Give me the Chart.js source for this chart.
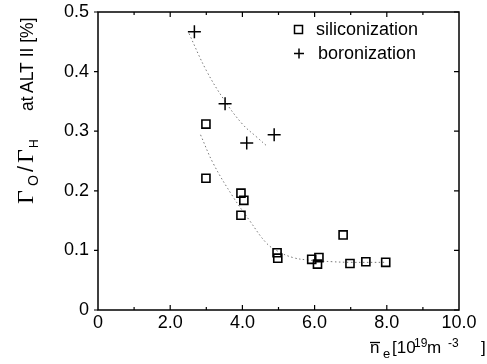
<!DOCTYPE html>
<html><head><meta charset="utf-8">
<script src="https://cdn.jsdelivr.net/npm/chart.js@4/dist/chart.umd.min.js"></script>
<style>html,body{margin:0;padding:0;background:#fff;}canvas{display:block;}</style>
</head><body>
<canvas id="c" width="487" height="364"></canvas>
<script>
// siliconization (squares)
const siliX = [2.99, 2.99, 3.96, 4.04, 3.96, 4.96, 4.98, 6.79, 5.92, 6.12, 6.08, 6.98, 7.42, 7.97];
const siliY = [0.312, 0.221, 0.196, 0.184, 0.159, 0.096, 0.087, 0.126, 0.085, 0.088, 0.077, 0.078, 0.081, 0.080];
// boronization (plus)
const boroX = [2.67, 3.52, 4.12, 4.88];
const boroY = [0.467, 0.346, 0.280, 0.294];
// dotted fit curves
const boroFitX = [2.52, 3.0, 3.5, 4.0, 4.4, 4.68];
const boroFitY = [0.464, 0.402, 0.352, 0.312, 0.290, 0.275];
const siliFitX = [2.84, 3.2, 3.74, 4.2, 4.67, 5.0, 5.4, 5.8, 6.5, 7.0, 8.0];
const siliFitY = [0.294, 0.245, 0.190, 0.150, 0.112, 0.098, 0.088, 0.084, 0.081, 0.080, 0.080];
const xTicks = [0, 2, 4, 6, 8, 10];
const yTicks = [0, 0.1, 0.2, 0.3, 0.4, 0.5];
const legendLabels = ['siliconization', 'boronization'];

const pts = (xs, ys) => xs.map((x, i) => ({x: x, y: ys[i]}));
const INK = '#000';
const FONT = '"Liberation Sans", Arial, sans-serif';

const deco = {
  id: 'deco',
  afterDraw(chart) {
    const ctx = chart.ctx, a = chart.chartArea, sx = chart.scales.x, sy = chart.scales.y;
    ctx.save();
    ctx.strokeStyle = INK; ctx.lineWidth = 1.5;
    ctx.strokeRect(a.left, a.top, a.right - a.left, a.bottom - a.top);
    ctx.lineWidth = 1.2;
    ctx.beginPath();
    yTicks.forEach(v => { const y = sy.getPixelForValue(v);
      ctx.moveTo(a.left - 4, y); ctx.lineTo(a.left, y);
      ctx.moveTo(a.right, y); ctx.lineTo(a.right - 5, y); });
    for (let v = 1; v < 10; v++) { const x = sx.getPixelForValue(v); const L = v % 2 === 0 ? 5 : 3;
      ctx.moveTo(x, a.bottom); ctx.lineTo(x, a.bottom - L);
      ctx.moveTo(x, a.top); ctx.lineTo(x, a.top + L); }
    ctx.stroke();
    // legend
    ctx.fillStyle = INK; ctx.textBaseline = 'middle'; ctx.textAlign = 'left';
    ctx.font = '18px ' + FONT;
    ctx.lineWidth = 1.5;
    ctx.strokeRect(294.5, 25.5, 8, 8);
    ctx.fillText(legendLabels[0], 316, 30);
    ctx.beginPath(); ctx.moveTo(294, 53.5); ctx.lineTo(304, 53.5); ctx.moveTo(299, 48.5); ctx.lineTo(299, 58.5); ctx.stroke();
    ctx.fillText(legendLabels[1], 318, 54);
    // x title
    ctx.textBaseline = 'alphabetic';
    ctx.font = '17px ' + FONT;
    ctx.fillText('n', 370, 353);
    ctx.lineWidth = 1.3;
    ctx.beginPath(); ctx.moveTo(370, 342.5); ctx.lineTo(380, 342.5); ctx.stroke();
    ctx.font = '13px ' + FONT; ctx.fillText('e', 383, 358);
    ctx.font = '17px ' + FONT; ctx.fillText('[10', 392, 353);
    ctx.font = '12px ' + FONT; ctx.fillText('19', 414, 347);
    ctx.font = '17px ' + FONT; ctx.fillText('m', 427, 353);
    ctx.font = '12px ' + FONT; ctx.fillText('-3', 448, 347);
    ctx.font = '17px ' + FONT; ctx.fillText(']', 481, 353);
    // y title (rotated)
    ctx.translate(33, 210); ctx.rotate(-Math.PI / 2);
    ctx.font = '24px "Liberation Serif", serif'; ctx.fillText('\u0393', 6, 0);
    ctx.font = '14px ' + FONT; ctx.fillText('O', 24, 5);
    ctx.font = '22px ' + FONT; ctx.fillText('/', 38, 0);
    ctx.font = '24px "Liberation Serif", serif'; ctx.fillText('\u0393', 47, 0);
    ctx.font = '12px ' + FONT; ctx.fillText('H', 62, 5);
    ctx.font = '17.5px ' + FONT; ctx.fillText('at', 99, 0);
    ctx.fillText('ALT II [%]', 117, 0);
    ctx.restore();
  }
};

new Chart(document.getElementById('c'), {
  type: 'scatter',
  data: {
    datasets: [
      {label: legendLabels[0], data: pts(siliX, siliY), pointStyle: 'rect', pointRadius: 5.7,
       borderColor: INK, backgroundColor: 'rgba(0,0,0,0)', borderWidth: 1.6},
      {label: legendLabels[1], data: pts(boroX, boroY), pointStyle: 'cross', pointRadius: 6.5,
       borderColor: INK, borderWidth: 1.5},
      {label: 'fit B', data: pts(boroFitX, boroFitY), showLine: true, pointRadius: 0, tension: 0.4,
       borderColor: '#777', borderWidth: 1, borderDash: [1.5, 2.5]},
      {label: 'fit S', data: pts(siliFitX, siliFitY), showLine: true, pointRadius: 0, tension: 0.4,
       borderColor: '#777', borderWidth: 1, borderDash: [1.5, 2.5]}
    ]
  },
  options: {
    responsive: false, devicePixelRatio: 1, animation: false,
    layout: {padding: {top: 12, right: 28, left: 0, bottom: 0}},
    plugins: {legend: {display: false}, tooltip: {enabled: false}},
    scales: {
      x: {type: 'linear', min: 0, max: 10,
        afterBuildTicks: s => { s.ticks = xTicks.map(v => ({value: v})); },
        afterFit: s => { s.height = 54; s.paddingLeft = 0; s.paddingRight = 0; },
        grid: {display: false, drawTicks: false}, border: {display: false},
        ticks: {color: INK, font: {family: FONT, size: 18}, padding: 2,
          callback: v => v === 0 ? '0' : v.toFixed(1)}},
      y: {type: 'linear', min: 0, max: 0.5,
        afterBuildTicks: s => { s.ticks = yTicks.map(v => ({value: v})); },
        afterFit: s => { s.width = 98; s.paddingTop = 0; s.paddingBottom = 0; },
        grid: {display: false, drawTicks: false}, border: {display: false},
        ticks: {color: INK, font: {family: FONT, size: 18}, padding: 9,
          callback: v => v === 0 ? '0' : v.toFixed(1)}}
    }
  },
  plugins: [deco]
});
</script>
</body></html>
